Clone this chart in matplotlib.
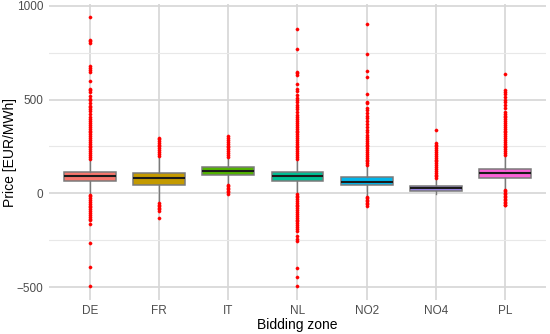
import matplotlib
matplotlib.use("Agg")
import matplotlib.pyplot as plt

plt.rcParams["font.family"] = ["Liberation Sans", "DejaVu Sans"]

zones = ["DE", "FR", "IT", "NL", "NO2", "NO4", "PL"]
colors = ["#F8766D", "#C49A00", "#53B400", "#00C094", "#00B6EB", "#9A85E6", "#FB61D7"]

q1 = [66, 46, 100, 66, 46, 12, 84]
median = [93, 82, 117, 92, 63, 27, 108]
q3 = [116, 110, 139, 116, 88, 39, 132]
whis_lo = [-5, -48, 42, -2, -15, -2, 14]
whis_hi = [183, 200, 192, 183, 150, 78, 202]

fliers = {
    "DE": [185, 195, 205, 215, 225, 235, 245, 255, 265, 275, 285, 295, 305, 315, 325,
           335, 345, 355, 365, 375, 385, 395, 410, 425, 440, 450, 460, 465, 480, 500,
           505, 520, 540, 550, 555, 600, 650, 660, 670, 680, 805, 815, 820, 940,
           -8, -15, -25, -35, -45, -55, -65, -75, -85, -95, -105, -115, -125, -135,
           -140, -165, -265, -395, -497],
    "FR": [200, 210, 220, 230, 240, 250, 260, 270, 280, 290, 298,
           -52, -60, -68, -76, -84, -92, -133],
    "IT": [195, 205, 215, 225, 235, 245, 255, 265, 275, 285, 295, 305,
           45, 38, 30, 22, 14, 6, -2],
    "NL": [185, 195, 205, 215, 225, 235, 245, 255, 265, 275, 285, 295, 305, 315, 325,
           335, 345, 355, 365, 375, 385, 395, 410, 420, 432, 448, 460, 470, 485, 500,
           510, 523, 546, 555, 585, 629, 640, 647, 772, 875,
           -5, -12, -20, -30, -40, -50, -60, -70, -80, -90, -100, -110, -120, -130,
           -140, -150, -160, -170, -180, -190, -200, -230, -242, -254, -396, -444, -496],
    "NO2": [152, 160, 170, 180, 190, 200, 210, 220, 230, 240, 250, 260, 270, 280, 290,
            300, 310, 325, 340, 355, 368, 386, 400, 415, 430, 445, 458, 480, 490, 532,
            620, 652, 745, 905,
            -18, -26, -34, -42, -50, -58, -66],
    "NO4": [80, 90, 100, 110, 120, 130, 140, 150, 160, 170, 180, 190, 200, 210, 220,
            230, 240, 250, 260, 270, 336],
    "PL": [205, 215, 225, 235, 245, 255, 265, 275, 285, 295, 305, 315, 325, 335, 345,
           355, 365, 375, 385, 395, 405, 415, 425, 435, 458, 470, 485, 500, 512, 528,
           540, 551, 635,
           20, 12, 4, -4, -12, -20, -28, -36, -44, -52, -60, -64],
}

stats = []
for i, zone in enumerate(zones):
    stats.append({
        "label": zone,
        "q1": q1[i],
        "med": median[i],
        "q3": q3[i],
        "whislo": whis_lo[i],
        "whishi": whis_hi[i],
        "fliers": fliers[zone],
    })

fig = plt.figure(figsize=(5.5, 3.34), dpi=100)
ax = fig.add_axes([0.0884, 0.1003, 0.905, 0.8885])

bp = ax.bxp(
    stats,
    positions=range(1, len(zones) + 1),
    widths=0.75,
    patch_artist=True,
    showcaps=False,
    boxprops=dict(edgecolor="#7a7a7a", linewidth=1.1),
    medianprops=dict(color="#1a1a1a", linewidth=1.5),
    whiskerprops=dict(color="#7a7a7a", linewidth=1.0),
    flierprops=dict(marker="o", markersize=2.3, markerfacecolor="red",
                    markeredgecolor="red", markeredgewidth=0.3, linestyle="none"),
)
for patch, c in zip(bp["boxes"], colors):
    patch.set_facecolor(c)

ax.set_xlim(0.4, 7.6)
ax.set_ylim(-572, 1012)
ax.set_yticks([-500, 0, 500, 1000])
ax.set_yticks([-250, 250, 750], minor=True)
ax.set_xticks(range(1, len(zones) + 1))
ax.set_xticklabels(zones)

ax.grid(True, which="major", color="#D6D6D6", linewidth=1.2)
ax.grid(True, which="minor", axis="y", color="#E8E8E8", linewidth=0.8)
ax.set_axisbelow(True)
for s in ax.spines.values():
    s.set_visible(False)
ax.tick_params(which="both", length=0, labelsize=8.5, labelcolor="#4D4D4D")
ax.tick_params(axis="x", pad=3)
ax.tick_params(axis="y", pad=4)

ax.set_xlabel("Bidding zone", fontsize=10, va="center")
ax.set_ylabel("Price [EUR/MWh]", fontsize=10, va="center")
ax.xaxis.set_label_coords(0.5, -0.083)
ax.yaxis.set_label_coords(-0.077, 0.5)

fig.savefig("out.png", dpi=100)
